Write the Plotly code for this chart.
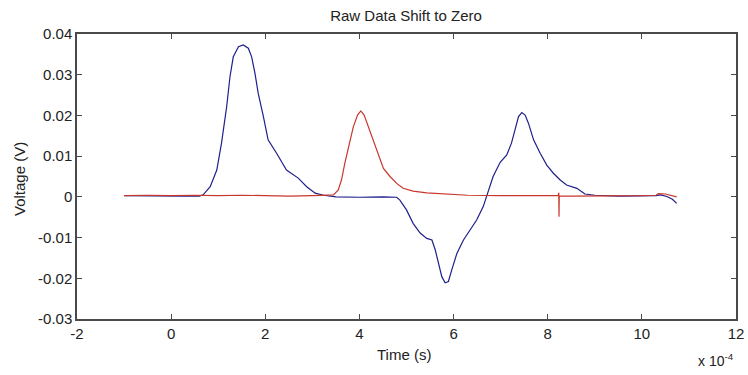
import plotly.graph_objects as go

# Time axis values are in units of 1e-4 s (axis multiplier shown as "x 10^-4")
blue_t = [-1.0, -0.5, 0.0, 0.3, 0.6, 0.68, 0.83, 0.97, 1.07, 1.18, 1.25, 1.32, 1.43, 1.53,
          1.64, 1.71, 1.78, 1.85, 1.96, 2.06, 2.24, 2.45, 2.70, 2.88, 3.06, 3.24, 3.5, 4.0,
          4.5, 4.79, 4.86, 5.00, 5.14, 5.29, 5.43, 5.54, 5.61, 5.68, 5.75, 5.82, 5.89, 5.96,
          6.07, 6.21, 6.35, 6.49, 6.63, 6.72, 6.84, 6.99, 7.13, 7.23, 7.31, 7.38, 7.45, 7.52,
          7.59, 7.70, 7.84, 7.98, 8.12, 8.26, 8.40, 8.62, 8.79, 9.0, 9.5, 10.0, 10.3, 10.4,
          10.53, 10.65, 10.74]
blue_v = [0.0003, 0.0002, 0.0001, 0.0002, 0.0002, 0.0005, 0.0025, 0.0066, 0.0132, 0.0222,
          0.0295, 0.0344, 0.0369, 0.0373, 0.0365, 0.0344, 0.0304, 0.0254, 0.0197, 0.0140,
          0.0107, 0.0066, 0.0046, 0.0025, 0.0009, 0.0004, 0.0000, -0.0001, 0.0000, -0.0001,
          -0.0008, -0.0032, -0.0065, -0.0089, -0.0102, -0.0106, -0.0130, -0.0163, -0.0196,
          -0.0211, -0.0208, -0.0180, -0.0139, -0.0106, -0.0081, -0.0057, -0.0024, 0.0009,
          0.0050, 0.0085, 0.0103, 0.0132, 0.0164, 0.0197, 0.0207, 0.0201, 0.0181, 0.0140,
          0.0107, 0.0078, 0.0058, 0.0042, 0.0029, 0.0021, 0.0007, 0.0004, 0.0002, 0.0002,
          0.0003, 0.0005, 0.0001, -0.0006, -0.0016]

red_t = [-1.0, -0.5, 0.0, 0.5, 1.0, 1.5, 2.0, 2.5, 3.0, 3.3, 3.45, 3.55, 3.62, 3.69, 3.77,
         3.87, 3.96, 4.03, 4.10, 4.19, 4.30, 4.40, 4.51, 4.65, 4.79, 4.93, 5.14, 5.43, 5.85,
         6.3, 7.0, 7.5, 8.0, 8.22, 8.235, 8.24, 8.245, 8.5, 9.0, 9.5, 10.0, 10.3, 10.35,
         10.5, 10.6, 10.74]
red_v = [0.0003, 0.0004, 0.0003, 0.0004, 0.0003, 0.0004, 0.0003, 0.0002, 0.0003, 0.0004,
         0.0005, 0.0017, 0.0042, 0.0083, 0.0123, 0.0172, 0.0201, 0.0211, 0.0201, 0.0172,
         0.0140, 0.0107, 0.0070, 0.0050, 0.0033, 0.0021, 0.0014, 0.0010, 0.0007, 0.0004,
         0.0003, 0.0003, 0.0002, 0.0003, 0.0010, -0.0049, 0.0002, 0.0002, 0.0002, 0.0003,
         0.0003, 0.0004, 0.0008, 0.0007, 0.0004, 0.0000]

x_ticks = [-2, 0, 2, 4, 6, 8, 10, 12]
x_ticklabels = ["-2", "0", "2", "4", "6", "8", "10", "12"]
y_ticks = [-0.03, -0.02, -0.01, 0, 0.01, 0.02, 0.03, 0.04]
y_ticklabels = ["-0.03", "-0.02", "-0.01", "0", "0.01", "0.02", "0.03", "0.04"]

W, H = 748, 375
L, R, T, B = 77, 12, 34, 56
FONT = "Liberation Sans, Arial, sans-serif"
TXT = "#222222"

fig = go.Figure()
fig.add_trace(go.Scatter(x=blue_t, y=blue_v, mode="lines",
                         line=dict(color="#1f1f8c", width=1.2), showlegend=False))
fig.add_trace(go.Scatter(x=red_t, y=red_v, mode="lines",
                         line=dict(color="#c8372d", width=1.2), showlegend=False))

axis_common = dict(showgrid=False, zeroline=False, showline=True, mirror="ticks",
                   linecolor="#4a4a4a", linewidth=1.5, ticks="inside", ticklen=5,
                   tickwidth=1.2, tickcolor="#4a4a4a", automargin=False,
                   tickfont=dict(family=FONT, size=15, color=TXT))

fig.update_xaxes(range=[-2, 12], tickvals=x_ticks, ticktext=x_ticklabels, **axis_common)
fig.update_yaxes(range=[-0.03, 0.04], tickvals=y_ticks, ticktext=y_ticklabels, **axis_common)

fig.update_layout(
    width=W, height=H,
    margin=dict(l=L, r=R, t=T, b=B, pad=0, autoexpand=False),
    paper_bgcolor="white", plot_bgcolor="white",
    font=dict(family=FONT, size=15, color=TXT),
    title=dict(text="Raw Data Shift to Zero", x=406 / W, xanchor="center",
               y=1 - 16 / H, yanchor="middle", font=dict(family=FONT, size=15, color=TXT)),
    annotations=[
        dict(text="Time (s)", xref="paper", yref="paper",
             x=(404 - L) / (W - L - R), y=-(354 - (H - B)) / (H - T - B),
             xanchor="center", yanchor="middle", showarrow=False,
             font=dict(family=FONT, size=15, color=TXT)),
        dict(text="Voltage (V)", xref="paper", yref="paper", textangle=-90,
             x=-(L - 19) / (W - L - R), y=((H - B) - 179) / (H - T - B),
             xanchor="center", yanchor="middle", showarrow=False,
             font=dict(family=FONT, size=15, color=TXT)),
        dict(text="x 10<sup>-4</sup>", xref="paper", yref="paper",
             x=(736 - L) / (W - L - R), y=-(360 - (H - B)) / (H - T - B),
             xanchor="right", yanchor="middle", showarrow=False,
             font=dict(family=FONT, size=14, color=TXT)),
    ],
)

fig.write_html("out.html")
